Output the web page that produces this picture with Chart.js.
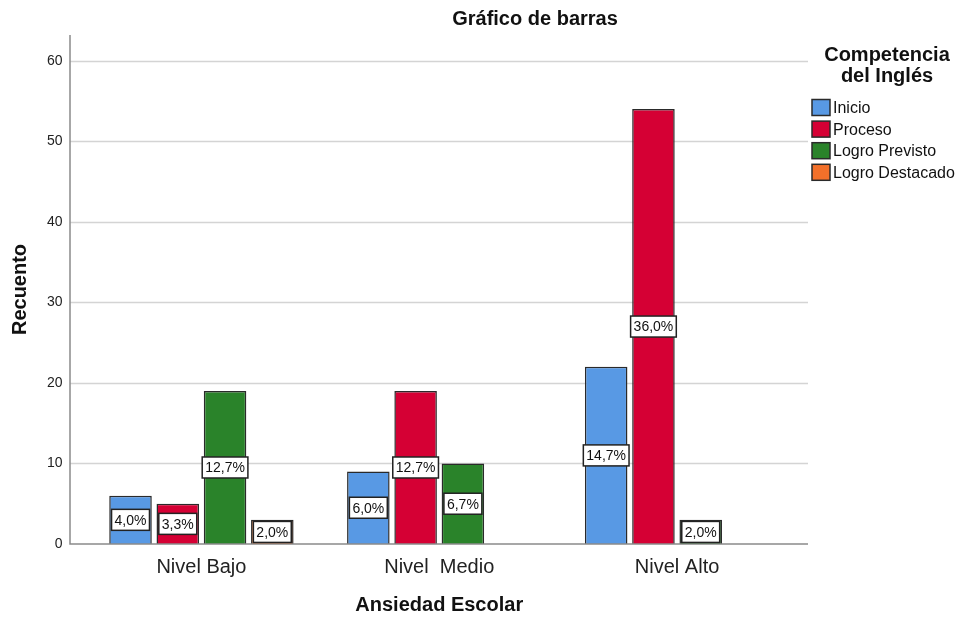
<!DOCTYPE html>
<html>
<head>
<meta charset="utf-8">
<script src="https://cdn.jsdelivr.net/npm/chart.js@4/dist/chart.umd.min.js"></script>
<style>
  html, body { margin: 0; padding: 0; background: #fff; }
</style>
</head>
<body>
<canvas id="myChart" width="960" height="617"></canvas>
<script>
// data
const categories = ['Nivel Bajo', 'Nivel  Medio', 'Nivel Alto'];
const seriesNames = ['Inicio', 'Proceso', 'Logro Previsto', 'Logro Destacado'];
const inicio = [6, 9, 22];
const proceso = [5, 19, 54];
const logroPrevisto = [19, 10, 3];
const logroDestacado = [3, 0, 0];
const yTicks = [0, 10, 20, 30, 40, 50, 60];

const colors = ['#5899e4', '#d50034', '#2a832a', '#f2702a'];
const FONT = '"Liberation Sans", Arial, sans-serif';

const seriesData = [inicio, proceso, logroPrevisto, logroDestacado];
const total = seriesData.flat().reduce((a, b) => a + b, 0);

const spssPlugin = {
    id: 'spss',
    beforeDatasetsDraw(chart) {
        const { ctx, chartArea: a, scales: { y } } = chart;
        const l = a.left - 12.5, r = a.right + 12;
        ctx.save();
        ctx.strokeStyle = '#d4d4d4';
        ctx.lineWidth = 1.5;
        y.ticks.forEach(t => {
            if (t.value === 0) return;
            const py = Math.round(y.getPixelForValue(t.value)) + 0.5;
            ctx.beginPath();
            ctx.moveTo(l, py);
            ctx.lineTo(r, py);
            ctx.stroke();
        });
        ctx.restore();
    },
    afterDatasetsDraw(chart) {
        const { ctx, chartArea: a } = chart;
        const l = a.left - 12.5, r = a.right + 12;
        ctx.save();
        // axis lines
        ctx.strokeStyle = '#8a8a8a';
        ctx.lineWidth = 1.5;
        ctx.beginPath();
        ctx.moveTo(l, a.top);
        ctx.lineTo(l, a.bottom);
        ctx.lineTo(r, a.bottom);
        ctx.stroke();

        // percentage boxes
        ctx.font = '14px ' + FONT;
        ctx.textAlign = 'center';
        ctx.textBaseline = 'middle';
        chart.data.datasets.forEach((ds, k) => {
            chart.getDatasetMeta(k).data.forEach((bar, i) => {
                const v = ds.data[i];
                if (!v) return;
                const txt = (v / total * 100).toFixed(1).replace('.', ',') + '%';
                const w = ctx.measureText(txt).width + 6, h = 21;
                const cy = (bar.y + bar.base) / 2;
                ctx.fillStyle = '#fff';
                ctx.fillRect(bar.x - w / 2, cy - h / 2, w, h);
                ctx.strokeStyle = '#222';
                ctx.lineWidth = 1.5;
                ctx.strokeRect(bar.x - w / 2, cy - h / 2, w, h);
                ctx.fillStyle = '#111';
                ctx.fillText(txt, bar.x, cy + 1);
            });
        });
        ctx.restore();
    },
    afterDraw(chart) {
        const ctx = chart.ctx;
        ctx.save();
        ctx.fillStyle = '#111';
        ctx.textAlign = 'center';
        ctx.textBaseline = 'middle';
        ctx.font = 'bold 20px ' + FONT;
        ctx.fillText('Gráfico de barras', 535, 19);

        // legend
        ctx.fillText('Competencia', 887, 55);
        ctx.fillText('del Inglés', 887, 76);
        ctx.textAlign = 'left';
        ctx.font = '16px ' + FONT;
        seriesNames.forEach((name, k) => {
            const cy = 107.5 + k * 21.6;
            ctx.fillStyle = colors[k];
            ctx.fillRect(812, cy - 8, 18, 16);
            ctx.strokeStyle = '#2a2a2a';
            ctx.lineWidth = 1.5;
            ctx.strokeRect(812, cy - 8, 18, 16);
            ctx.fillStyle = '#111';
            ctx.fillText(name, 833, cy + 1);
        });
        ctx.restore();
    }
};

const ctx = document.getElementById('myChart');
const myChart = new Chart(ctx, {
    type: 'bar',
    data: {
        labels: categories,
        datasets: seriesNames.map((name, k) => ({
            label: name,
            data: seriesData[k],
            backgroundColor: colors[k],
            borderColor: '#2a2a2a',
            borderWidth: 1.5,
            categoryPercentage: 0.795,
            barPercentage: 0.9
        }))
    },
    options: {
        responsive: false,
        animation: false,
        layout: { padding: { top: 35, right: 164, left: 0, bottom: 0 } },
        plugins: {
            legend: { display: false },
            tooltip: { enabled: false },
            title: { display: false }
        },
        scales: {
            x: {
                grid: { display: false },
                border: { display: false },
                ticks: { color: '#222', font: { family: FONT, size: 20 }, padding: 3 },
                title: {
                    display: true,
                    text: 'Ansiedad Escolar',
                    color: '#111',
                    font: { family: FONT, size: 20, weight: 'bold' },
                    padding: { top: 0, bottom: 0 }
                },
                afterFit: s => { s.height = 73; }
            },
            y: {
                min: 0,
                max: 63.2,
                afterBuildTicks: s => { s.ticks = yTicks.map(v => ({ value: v })); },
                grid: { display: false },
                border: { display: false },
                ticks: { color: '#222', font: { family: FONT, size: 14 }, padding: 12 },
                title: {
                    display: true,
                    text: 'Recuento',
                    color: '#111',
                    font: { family: FONT, size: 20, weight: 'bold' },
                    padding: { top: 8, bottom: 0 }
                },
                afterFit: s => { s.width = 82.5; }
            }
        }
    },
    plugins: [spssPlugin]
});
</script>
</body>
</html>
